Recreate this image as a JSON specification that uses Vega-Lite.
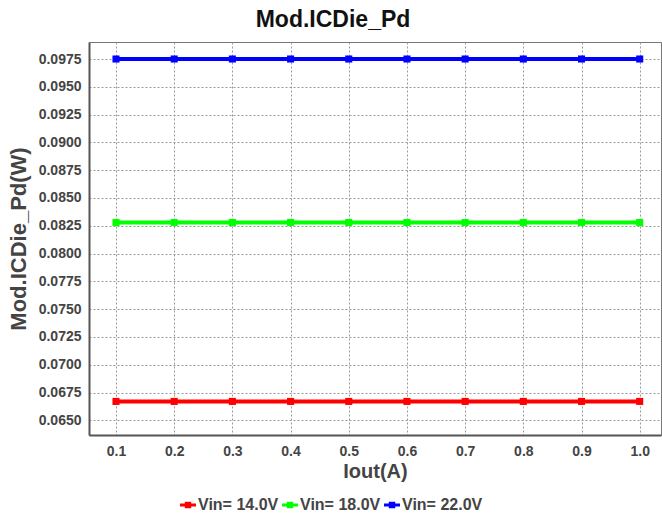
{
  "$schema": "https://vega.github.io/schema/vega-lite/v6.json",
  "width": 572,
  "height": 393,
  "autosize": "none",
  "padding": {"left": 89, "top": 42, "right": 1, "bottom": 78},
  "background": "white",
  "title": {"text": "Mod.ICDie_Pd", "font": "Liberation Sans", "fontSize": 23, "fontWeight": "bold", "color": "#111", "anchor": "middle", "dx": -42, "offset": 10},
  "config": {
    "view": {"stroke": "#777", "strokeWidth": 1},
    "axis": {"labelFont": "Liberation Sans", "labelFontWeight": "bold", "labelFontSize": 14, "labelColor": "#444", "titleFont": "Liberation Sans", "titleFontWeight": "bold", "titleFontSize": 22, "titleColor": "#444", "domainColor": "#555", "domainWidth": 2, "ticks": false, "gridColor": "#999", "gridDash": [2, 2], "gridWidth": 1}
  },
  "data": {"values": [
    {"x": 0.1, "y": 0.0667, "s": "Vin= 14.0V"}, {"x": 0.2, "y": 0.0667, "s": "Vin= 14.0V"}, {"x": 0.3, "y": 0.0667, "s": "Vin= 14.0V"}, {"x": 0.4, "y": 0.0667, "s": "Vin= 14.0V"}, {"x": 0.5, "y": 0.0667, "s": "Vin= 14.0V"}, {"x": 0.6, "y": 0.0667, "s": "Vin= 14.0V"}, {"x": 0.7, "y": 0.0667, "s": "Vin= 14.0V"}, {"x": 0.8, "y": 0.0667, "s": "Vin= 14.0V"}, {"x": 0.9, "y": 0.0667, "s": "Vin= 14.0V"}, {"x": 1.0, "y": 0.0667, "s": "Vin= 14.0V"},
    {"x": 0.1, "y": 0.0828, "s": "Vin= 18.0V"}, {"x": 0.2, "y": 0.0828, "s": "Vin= 18.0V"}, {"x": 0.3, "y": 0.0828, "s": "Vin= 18.0V"}, {"x": 0.4, "y": 0.0828, "s": "Vin= 18.0V"}, {"x": 0.5, "y": 0.0828, "s": "Vin= 18.0V"}, {"x": 0.6, "y": 0.0828, "s": "Vin= 18.0V"}, {"x": 0.7, "y": 0.0828, "s": "Vin= 18.0V"}, {"x": 0.8, "y": 0.0828, "s": "Vin= 18.0V"}, {"x": 0.9, "y": 0.0828, "s": "Vin= 18.0V"}, {"x": 1.0, "y": 0.0828, "s": "Vin= 18.0V"},
    {"x": 0.1, "y": 0.0975, "s": "Vin= 22.0V"}, {"x": 0.2, "y": 0.0975, "s": "Vin= 22.0V"}, {"x": 0.3, "y": 0.0975, "s": "Vin= 22.0V"}, {"x": 0.4, "y": 0.0975, "s": "Vin= 22.0V"}, {"x": 0.5, "y": 0.0975, "s": "Vin= 22.0V"}, {"x": 0.6, "y": 0.0975, "s": "Vin= 22.0V"}, {"x": 0.7, "y": 0.0975, "s": "Vin= 22.0V"}, {"x": 0.8, "y": 0.0975, "s": "Vin= 22.0V"}, {"x": 0.9, "y": 0.0975, "s": "Vin= 22.0V"}, {"x": 1.0, "y": 0.0975, "s": "Vin= 22.0V"}
  ]},
  "encoding": {
    "x": {"field": "x", "type": "quantitative", "scale": {"domain": [0.0536, 1.0366], "nice": false, "zero": false},
      "axis": {"values": [0.1, 0.2, 0.3, 0.4, 0.5, 0.6, 0.7, 0.8, 0.9, 1.0], "format": ".1f", "title": "Iout(A)", "titleFontSize": 20, "labelPadding": 9, "titlePadding": 3}},
    "y": {"field": "y", "type": "quantitative", "scale": {"domain": [0.06368, 0.09903], "nice": false, "zero": false},
      "axis": {"values": [0.065, 0.0675, 0.07, 0.0725, 0.075, 0.0775, 0.08, 0.0825, 0.085, 0.0875, 0.09, 0.0925, 0.095, 0.0975], "format": ".4f", "title": "Mod.ICDie_Pd(W)", "labelPadding": 8, "titlePadding": 8}},
    "color": {"field": "s", "type": "nominal", "scale": {"domain": ["Vin= 14.0V", "Vin= 18.0V", "Vin= 22.0V"], "range": ["#ff0000", "#00ff00", "#0000ff"]},
      "legend": {"title": null, "orient": "none", "direction": "horizontal", "legendX": 91, "legendY": 455, "symbolType": "M-1,-0.2H1V0.2H-1Z M-0.4,-0.4H0.4V0.4H-0.4Z", "symbolSize": 256, "symbolStrokeWidth": 0, "labelFont": "Liberation Sans", "labelFontWeight": "bold", "labelFontSize": 16, "labelColor": "#444", "columnPadding": 3, "labelOffset": 2}}
  },
  "layer": [
    {"mark": {"type": "line", "strokeWidth": 4}},
    {"mark": {"type": "square", "size": 50, "opacity": 1, "filled": true}}
  ]
}
